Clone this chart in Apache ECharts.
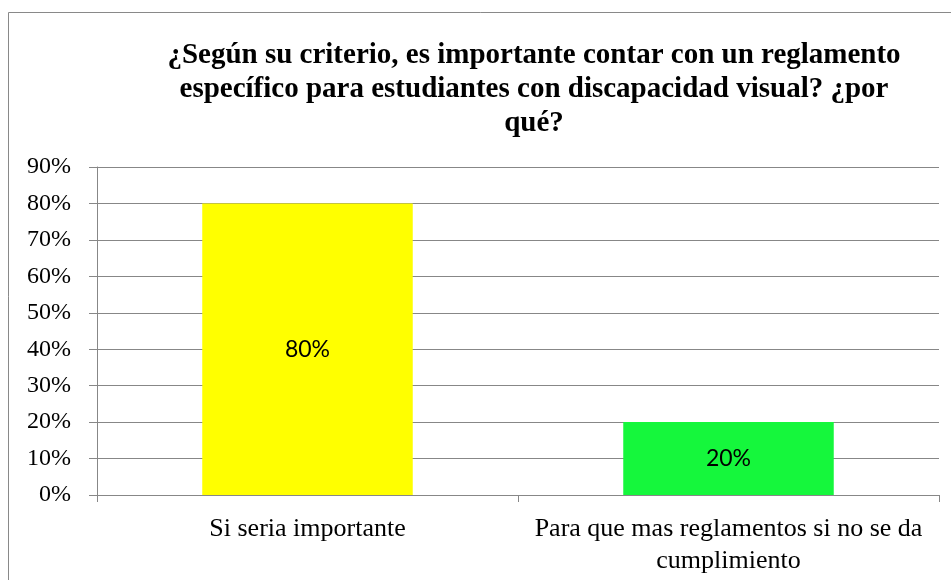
<!DOCTYPE html>
<html>
<head>
<meta charset="utf-8">
<script src="https://cdn.jsdelivr.net/npm/echarts@6/dist/echarts.min.js"></script>
<style>
  html, body { margin: 0; padding: 0; background: #fff; }
  #chart { width: 951px; height: 580px; }
</style>
</head>
<body>
<div id="chart"></div>
<script>
// datos
const categorias = ['Si seria importante', 'Para que mas reglamentos si no se da\ncumplimiento'];
const valores = [80, 20];
const colores = ['#FFFF00', '#15F73C'];
const titulo = '¿Según su criterio, es importante contar con un reglamento\nespecífico para estudiantes con discapacidad visual? ¿por\nqué?';

const chart = echarts.init(document.getElementById('chart'));

const option = {
    backgroundColor: '#fff',
    animation: false,
    title: {
        text: titulo,
        left: 529, top: 34, textAlign: 'center',
        textStyle: { fontFamily: 'Liberation Serif', fontWeight: 'bold', fontSize: 29, lineHeight: 34, color: '#000' }
    },
    // marco del grafico (se sale por la derecha y por abajo)
    graphic: [{
        type: 'rect', silent: true,
        shape: { x: 8.5, y: 12.5, width: 980, height: 620 },
        style: { fill: null, stroke: '#898989', lineWidth: 1 }
    }],
    grid: { left: 97, right: 12, top: 167, bottom: 85 },
    xAxis: {
        type: 'category',
        data: categorias,
        axisLine: { lineStyle: { color: '#878787' } },
        axisTick: { show: true, length: 7, lineStyle: { color: '#878787' } },
        axisLabel: { fontFamily: 'Liberation Serif', fontSize: 26, lineHeight: 32, color: '#000', margin: 18, interval: 0 }
    },
    yAxis: {
        type: 'value', min: 0, max: 90, interval: 10,
        axisLine: { show: true, lineStyle: { color: '#878787' } },
        axisTick: { show: true, length: 8, lineStyle: { color: '#878787' } },
        splitLine: { lineStyle: { color: '#878787' } },
        axisLabel: { formatter: '{value}%', fontFamily: 'Liberation Serif', fontSize: 24, color: '#000', margin: 26 }
    },
    series: [{
        type: 'bar',
        barWidth: '50%',
        data: valores.map((v, i) => ({ value: v, itemStyle: { color: colores[i] } })),
        label: {
            show: true, position: 'inside', formatter: '{c}%',
            fontFamily: 'Lato', fontSize: 23, color: '#000'
        }
    }]
};

chart.setOption(option);
</script>
</body>
</html>
